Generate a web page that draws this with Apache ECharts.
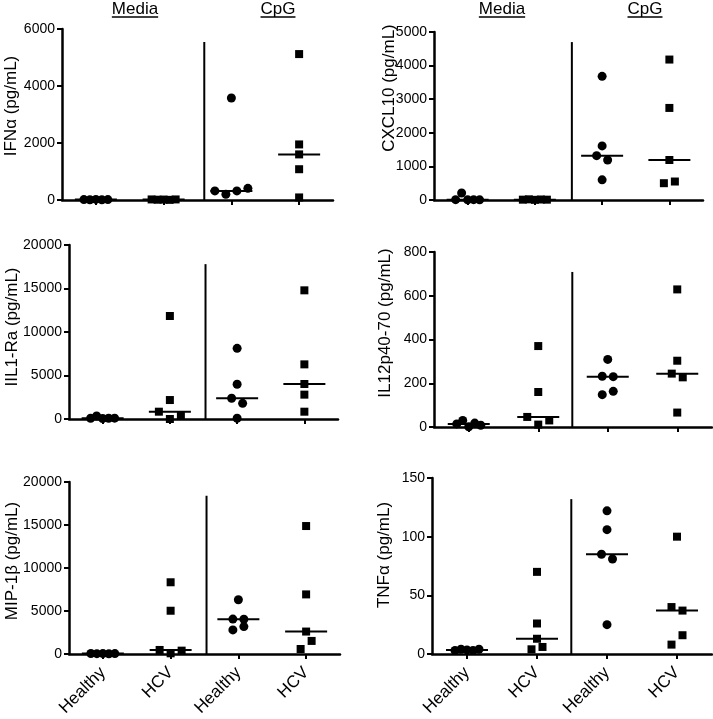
<!DOCTYPE html>
<html>
<head>
<meta charset="utf-8">
<script src="https://cdn.jsdelivr.net/npm/echarts@6/dist/echarts.min.js"></script>
<style>
  html, body { margin: 0; padding: 0; background: #fff; }
  #main { width: 713px; height: 719px; }
</style>
</head>
<body>
<div id="main"></div>
<script>
// ---------------- DATA ----------------
const groupLabels = ['Healthy', 'HCV', 'Healthy', 'HCV'];
const treatmentLabels = ['Media', 'CpG'];
const yTitles = ['IFNα (pg/mL)', 'CXCL10 (pg/mL)', 'IIL1-Ra (pg/mL)', 'IL12p40-70 (pg/mL)', 'MIP-1β (pg/mL)', 'TNFα (pg/mL)'];
const yMaxes = [6000, 5000, 20000, 800, 20000, 150];
const yIntervals = [2000, 1000, 5000, 200, 5000, 50];

// each: [Media Healthy, Media HCV, CpG Healthy, CpG HCV]
const ifna = [
  [15, 10, 20, 10, 15],
  [20, 10, 15, 5, 20],
  [320, 200, 320, 410, 3580],
  [5120, 1950, 1600, 1080, 90]
];
const cxcl10 = [
  [10, 210, 5, 10, 5],
  [10, 20, 5, 15, 10],
  [3680, 1610, 1320, 1190, 600],
  [4180, 2740, 1190, 500, 550]
];
const il1ra = [
  [80, 350, 60, 90, 100],
  [11840, 2180, 840, 0, 460],
  [8120, 3990, 2380, 1800, 80],
  [14790, 6280, 4020, 2800, 840]
];
const il12 = [
  [14, 30, 1, 18, 8],
  [370, 160, 46, 11, 30],
  [309, 232, 230, 148, 163],
  [629, 303, 244, 227, 66]
];
const mip1b = [
  [60, 40, 50, 30, 50],
  [8340, 5030, 470, 80, 390],
  [6310, 4060, 4040, 2800, 3190],
  [14880, 6930, 2610, 580, 1520]
];
const tnfa = [
  [3, 4, 3.5, 3, 4],
  [70, 26, 13, 4, 6],
  [122, 106, 85, 81, 25],
  [100, 40, 37, 8, 16]
];
const panelData = [ifna, cxcl10, il1ra, il12, mip1b, tnfa];

// ---------------- LAYOUT ----------------
const FONT = '"Liberation Sans", Arial, Helvetica, sans-serif';
const layout = [
  { left: 62,  top: 29,  width: 271, height: 171, divX: 2.6,  divFrac: 0.924, tx: 11,  ty: 106, labels: false },
  { left: 434, top: 32,  width: 269, height: 168, divX: 2.55, divFrac: 0.94,  tx: 389, ty: 88,  labels: false },
  { left: 69,  top: 245, width: 269, height: 174, divX: 2.53, divFrac: 0.89,  tx: 12,  ty: 327, labels: false },
  { left: 434, top: 252, width: 278, height: 175, divX: 2.49, divFrac: 0.886, tx: 385, ty: 323, labels: false },
  { left: 69,  top: 482, width: 271, height: 172, divX: 2.53, divFrac: 0.92,  tx: 12,  ty: 561, labels: true },
  { left: 432, top: 478, width: 280, height: 176, divX: 2.49, divFrac: 0.88,  tx: 384, ty: 555, labels: true }
];
const headerPos = [[135, 278], [502, 645]];

function median(arr) {
  const s = arr.slice().sort((a, b) => a - b);
  const m = Math.floor(s.length / 2);
  return s.length % 2 ? s[m] : (s[m - 1] + s[m]) / 2;
}

// horizontal spread (px) for points whose values nearly coincide on screen
function spreadOffsets(values, pxPerUnit) {
  const idx = values.map((v, i) => i).sort((a, b) => values[a] - values[b]);
  const clusters = [];
  let cur = null;
  for (const i of idx) {
    if (cur && (values[i] - values[cur[0]]) * pxPerUnit <= 9.6) cur.push(i);
    else { cur = [i]; clusters.push(cur); }
  }
  const off = new Array(values.length).fill(0);
  clusters.forEach(c => {
    c.sort((a, b) => a - b);
    const sp = c.length >= 5 ? 6 : 11;
    c.forEach((i, k) => { off[i] = (k - (c.length - 1) / 2) * sp; });
  });
  return off;
}

const grids = [], xAxes = [], yAxes = [], series = [], graphics = [];
const axisLine = { show: true, onZero: false, lineStyle: { color: '#000', width: 2.5 } };
const axisTick = { show: true, length: 5, lineStyle: { color: '#000', width: 2 } };

layout.forEach((L, p) => {
  grids.push({ left: L.left, top: L.top, width: L.width, height: L.height, containLabel: false });
  xAxes.push({
    gridIndex: p, type: 'value', min: 0.5, max: 4.5,
    axisLine: axisLine,
    axisTick: Object.assign({ customValues: [1, 2, 3, 4] }, axisTick),
    axisLabel: {
      show: L.labels, customValues: [1, 2, 3, 4],
      formatter: v => groupLabels[Math.round(v) - 1],
      rotate: 45, fontSize: 17, color: '#000', margin: 16, fontFamily: FONT
    },
    splitLine: { show: false }
  });
  yAxes.push({
    gridIndex: p, type: 'value', min: 0, max: yMaxes[p], interval: yIntervals[p],
    axisLine: axisLine, axisTick: axisTick,
    axisLabel: { fontSize: 14, color: '#000', margin: 7, fontFamily: FONT, formatter: v => String(v) },
    splitLine: { show: false }
  });
  const pxPerUnit = L.height / yMaxes[p];
  panelData[p].forEach((vals, g) => {
    const off = spreadOffsets(vals, pxPerUnit);
    const isHealthy = g % 2 === 0;
    series.push({
      type: 'scatter', xAxisIndex: p, yAxisIndex: p,
      symbol: isHealthy ? 'circle' : 'rect',
      symbolSize: isHealthy ? 9 : 8,
      itemStyle: { color: '#000', opacity: 1 },
      silent: true, z: 3,
      data: vals.map((v, i) => ({ value: [g + 1, v], symbolOffset: [off[i], 0] }))
    });
    series.push({
      type: 'scatter', xAxisIndex: p, yAxisIndex: p,
      symbol: 'rect', symbolSize: [42, 2],
      itemStyle: { color: '#000', opacity: 1 }, silent: true, z: 2,
      data: [[g + 1, median(vals)]]
    });
  });
  series.push({
    type: 'line', xAxisIndex: p, yAxisIndex: p,
    symbol: 'none', silent: true,
    lineStyle: { color: '#000', width: 2 },
    data: [[L.divX, 0], [L.divX, L.divFrac * yMaxes[p]]]
  });
  graphics.push({
    type: 'text', x: L.tx, y: L.ty, rotation: Math.PI / 2,
    style: { text: yTitles[p], font: '17px ' + FONT, fill: '#000', align: 'center', verticalAlign: 'middle' }
  });
});

// headers (underlined)
const measureCtx = document.createElement('canvas').getContext('2d');
measureCtx.font = '17px ' + FONT;
headerPos.forEach(pair => {
  pair.forEach((cx, k) => {
    const t = treatmentLabels[k];
    const w = measureCtx.measureText(t).width;
    graphics.push({
      type: 'text', x: cx, y: 9,
      style: { text: t, font: '17px ' + FONT, fill: '#000', align: 'center', verticalAlign: 'middle' }
    });
    graphics.push({
      type: 'line', shape: { x1: cx - w / 2, y1: 17, x2: cx + w / 2, y2: 17 },
      style: { stroke: '#000', lineWidth: 1.3 }
    });
  });
});

const chart = echarts.init(document.getElementById('main'), null, { renderer: 'canvas' });
chart.setOption({
  backgroundColor: '#fff',
  animation: false,
  grid: grids, xAxis: xAxes, yAxis: yAxes, series: series,
  graphic: graphics
});
</script>
</body>
</html>
